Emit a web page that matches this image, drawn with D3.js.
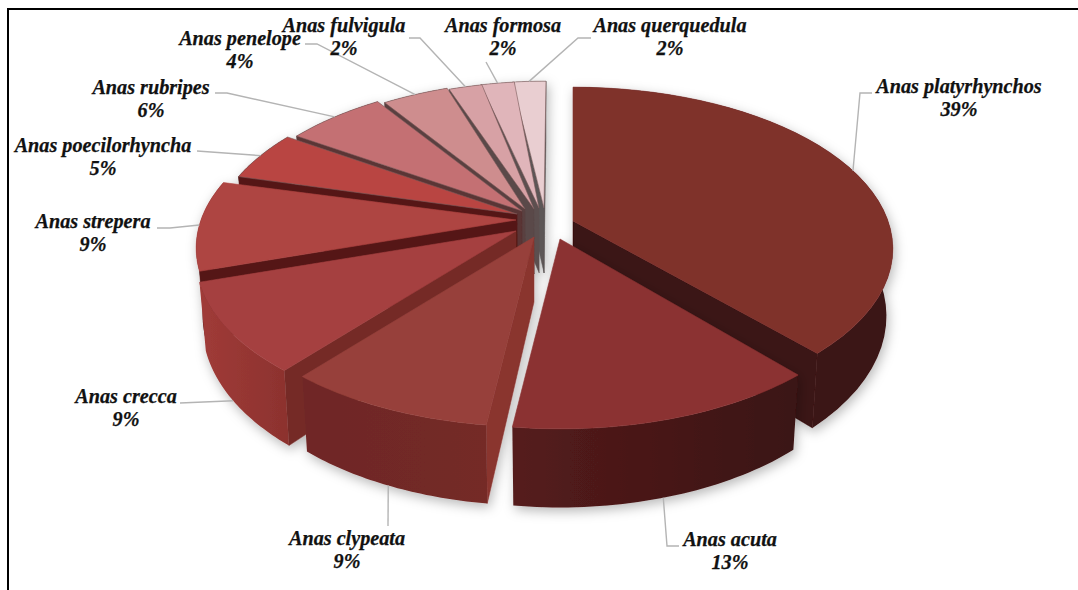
<!DOCTYPE html>
<html>
<head>
<meta charset="utf-8">
<script src="https://cdn.jsdelivr.net/npm/d3@7/dist/d3.min.js"></script>
<style>
html,body{margin:0;padding:0;background:#fff;overflow:hidden}
svg{display:block}
text{font-family:"Liberation Serif",serif;font-weight:bold;font-style:italic;fill:#111;stroke:#111;stroke-width:0.25;text-anchor:middle}
</style>
</head>
<body>
<svg id="chart" width="1078" height="590"></svg>
<script>
// ---- data ----
const species = ["Anas platyrhynchos","Anas acuta","Anas clypeata","Anas crecca","Anas strepera","Anas poecilorhyncha","Anas rubripes","Anas penelope","Anas fulvigula","Anas formosa","Anas querquedula"];
const shares = [39,13,9,9,9,5,6,4,2,2,2];

// ---- styles ----
const topColors  = ["#7f312c","#8b3232","#97403a","#a54040","#ae4442","#b94542","#c47073","#ce8d8e","#d7a1a5","#e0b5ba","#e9ced1"];
const wallLeft   = ["#3a1212","#551c1c","#6f2726","#a03b38","#551717","#551717","#5a3434","#5a4040","#5a4848","#5c5050","#5c5656"];
const wallRight  = ["#3a1212","#3a1212","#742a27","#8c322e","#551717","#551717","#5a3434","#5a4040","#5a4848","#5c5050","#5c5656"];
const cutColors  = ["#3a1212","#3a1212","#8a342f","#742c28","#551717","#551717","#5a3434","#5a4040","#5a4848","#5c5050","#5c5656"];

// ---- layout ----
const explodeX = [28,15,-11,-29,-29,-14,-5,2,4,3,1];
const explodeY = [-4,14,12,6,-5,-11,-12,-11,-10,-10,-10];
const apexShiftX = [0,0,0,0,0,-14,-18,-22,-15,-9,-2];
const apexShiftY = [0,0,0,0,0,0,-2,-5,-6,-7,-7];
const edgeNudgeStart = [0,-1.5,0,0,0,0,0,0,0,0,0];   // degrees, foreshortening correction
const edgeNudgeEnd   = [-3,0,0,0,0,0,0,0,0,0,0];
const labelX   = [959,730,347,126,93,103,151,240,344,503,670];
const labelY   = [93,546,545,403,228,152,94,45,32,32,32];
const leaderEnds = [
  [[872,93],[860,93]],[[679,546],[667,546]],[[388,526]],[[180,403]],[[157,228],[170,228]],
  [[197,151]],[[215,93],[227,93]],[[305,44],[317,44]],[[409,38],[420,38]],[[486,62]],[[591,38],[578,38]]
];
const drawOrder = [10,9,8,7,6,5,4,3,2,0,1];
const shadowAfter = new Set([2,0,1]);

const baseX = 545, baseY = 225;
const radiusX = 315, radiusY = 157, persp = 0.173, depth = 65, shrink = 0.98;

const svg = d3.select("#chart");
const defs = svg.append("defs");
const shadow = defs.append("filter").attr("id","soft").attr("x","-20%").attr("y","-20%").attr("width","140%").attr("height","140%");
shadow.append("feDropShadow").attr("dx",2).attr("dy",4).attr("stdDeviation",6).attr("flood-color","#000").attr("flood-opacity",0.28);

// frame
svg.append("path").attr("d",d3.line()([[1078,9],[8,9],[8,590]])).attr("fill","none").attr("stroke","#000").attr("stroke-width",2);

const arcs = d3.pie().sort(null)(shares);
const line = d3.line();
const rad = Math.PI/180;

function topPoint(theta, r, cx, cy){
  const X = r*Math.sin(theta), Y = r*Math.cos(theta), w = 1 + persp*Y;
  return [cx + radiusX*X/w, cy - radiusY*Y/w, w];
}
function dropPoint(p, cx){
  return [cx + (p[0]-cx)*shrink, p[1] + depth/p[2]];
}
const xy = p => [p[0],p[1]];

let group = svg.append("g").attr("filter","url(#soft)");
drawOrder.forEach(i=>{
  const a = arcs[i];
  const a0 = a.startAngle + edgeNudgeStart[i]*rad, a1 = a.endAngle + edgeNudgeEnd[i]*rad;
  const cx = baseX + explodeX[i], cy = baseY + explodeY[i];
  const steps = d3.range(0,41).map(k=>a0 + (a1-a0)*k/40);
  const rim = steps.map(t=>topPoint(t,1,cx,cy));
  const rimLow = rim.map(p=>dropPoint(p,cx));
  const apex = [cx+apexShiftX[i],cy+apexShiftY[i],1], apexLow = dropPoint(apex,cx);

  const grad = defs.append("linearGradient").attr("id","wall"+i);
  grad.append("stop").attr("offset","0%").attr("stop-color",wallLeft[i]);
  grad.append("stop").attr("offset","100%").attr("stop-color",wallRight[i]);

  // cut faces: keep the one turned to the viewer
  const startFace = [apex,rim[0],rimLow[0],apexLow].map(xy);
  const endFace = [apex,rim[40],rimLow[40],apexLow].map(xy);
  if (d3.polygonArea(startFace) > 0) group.append("path").attr("d",line(startFace)+"Z").attr("fill",cutColors[i]).attr("stroke",cutColors[i]).attr("stroke-width",0.5);
  if (d3.polygonArea(endFace) < 0) group.append("path").attr("d",line(endFace)+"Z").attr("fill",cutColors[i]).attr("stroke",cutColors[i]).attr("stroke-width",0.5);

  // outer wall
  const wall = rim.map(xy).concat(rimLow.slice().reverse());
  group.append("path").attr("d",line(wall)+"Z").attr("fill","url(#wall"+i+")");

  // top
  const top = [xy(apex)].concat(rim.map(xy));
  group.append("path").attr("d",line(top)+"Z").attr("fill",topColors[i]).attr("stroke",i>4?"#7a5a5a":topColors[i]).attr("stroke-width",0.6);

  if (shadowAfter.has(i)) group = svg.append("g").attr("filter","url(#soft)");
});

// leaders and labels
const labels = svg.append("g");
species.forEach((name,i)=>{
  const a = arcs[i], mid = (a.startAngle+a.endAngle)/2;
  const cx = baseX + explodeX[i], cy = baseY + explodeY[i];
  let anchor = topPoint(mid,1,cx,cy);
  if (Math.cos(mid) < -0.3) anchor = dropPoint(anchor,cx);
  labels.append("path")
    .attr("d",line(leaderEnds[i].concat([xy(anchor)])))
    .attr("fill","none").attr("stroke","#b4b4b4").attr("stroke-width",1.4);
});
species.forEach((name,i)=>{
  labels.append("text").attr("x",labelX[i]).attr("y",labelY[i]).attr("font-size",20.2).text(name);
  labels.append("text").attr("x",labelX[i]).attr("y",labelY[i]+23).attr("font-size",20.2).text(shares[i]+"%");
});
</script>
</body>
</html>
